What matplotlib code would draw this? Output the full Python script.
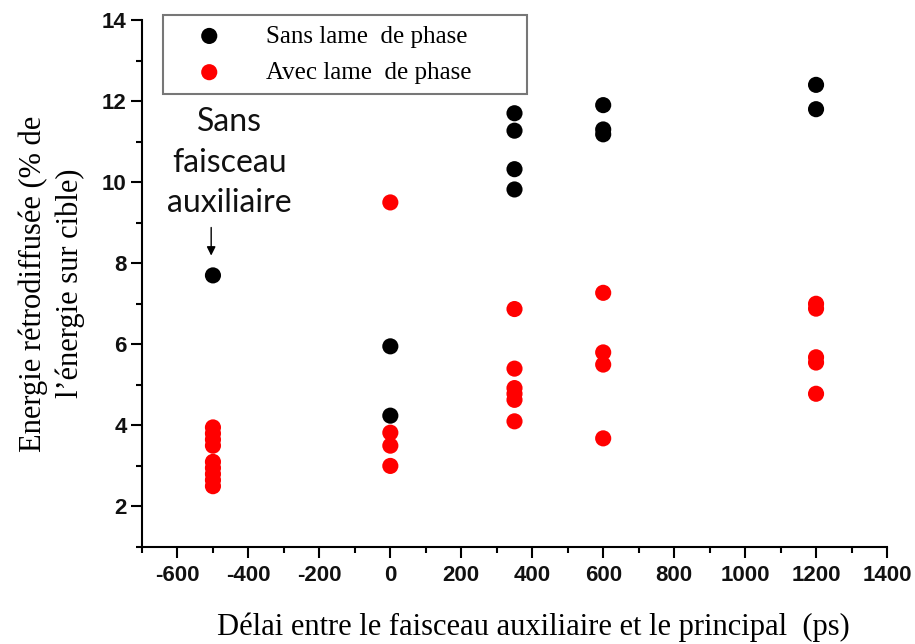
import matplotlib
matplotlib.use("Agg")
import matplotlib.pyplot as plt
from matplotlib.ticker import MultipleLocator

# Données
delai_sans = [-500, 0, 0, 350, 350, 350, 350, 600, 600, 600, 1200, 1200]
energie_sans = [7.7, 5.95, 4.24, 11.7, 11.27, 10.32, 9.82, 11.9, 11.3, 11.18, 12.4, 11.8]

delai_avec = [-500, -500, -500, -500, -500, -500, -500, -500, -500,
              0, 0, 0, 0,
              350, 350, 350, 350, 350, 350,
              600, 600, 600, 600,
              1200, 1200, 1200, 1200, 1200]
energie_avec = [3.95, 3.8, 3.65, 3.5, 3.1, 2.95, 2.8, 2.65, 2.5,
                9.5, 3.82, 3.5, 3.0,
                6.87, 5.4, 4.92, 4.78, 4.63, 4.1,
                7.27, 5.8, 5.5, 3.68,
                7.0, 6.88, 5.68, 5.55, 4.78]

labels = ["Sans lame  de phase", "Avec lame  de phase"]
xticks = [-600, -400, -200, 0, 200, 400, 600, 800, 1000, 1200, 1400]
yticks = [2, 4, 6, 8, 10, 12, 14]

serif = ["Liberation Serif", "DejaVu Serif"]
plt.rcParams["axes.unicode_minus"] = False

fig = plt.figure(figsize=(9.15, 6.44), dpi=100)
ax = fig.add_axes([142 / 915, 97 / 644, 745 / 915, 527 / 644])

ax.scatter(delai_sans, energie_sans, s=135, c="black", edgecolors="none",
           label=labels[0], zorder=3)
ax.scatter(delai_avec, energie_avec, s=135, c="#ff0000", edgecolors="none",
           label=labels[1], zorder=3)

ax.set_xlim(-700, 1400)
ax.set_ylim(1, 14)
ax.set_xticks(xticks)
ax.set_yticks(yticks)
ax.xaxis.set_minor_locator(MultipleLocator(100))
ax.yaxis.set_minor_locator(MultipleLocator(1))

for s in ["top", "right"]:
    ax.spines[s].set_visible(False)
for s in ["left", "bottom"]:
    ax.spines[s].set_linewidth(1.5)

ax.tick_params(which="major", length=8, width=1.5, direction="out")
ax.tick_params(which="minor", length=4, width=1.5, direction="out")
ax.tick_params(axis="x", which="major", pad=5)
ax.tick_params(axis="y", which="major", pad=3)
for lab in ax.get_xticklabels() + ax.get_yticklabels():
    lab.set_fontfamily("Liberation Sans")
    lab.set_fontweight("bold")
    lab.set_fontsize(16)
    lab.set_color("#111111")

ax.set_xlabel("Délai entre le faisceau auxiliaire et le principal  (ps)",
              fontsize=22, family=serif)
ax.xaxis.set_label_coords(0.525, -0.125)
ax.set_ylabel("Energie rétrodiffusée (% de\nl’énergie sur cible)",
              fontsize=22, family=serif, linespacing=1.3)
ax.yaxis.set_label_coords(-0.077, 0.5)

# annotation
ax.text(-453, 10.48, "Sans\nfaisceau\nauxiliaire", ha="center", va="center",
        fontsize=23, family=["Lato", "DejaVu Sans"], color="#111111",
        linespacing=1.45)
ax.annotate("", xy=(-505, 8.12), xytext=(-505, 8.95),
            arrowprops=dict(arrowstyle="-|>", color="black", lw=1.0,
                            mutation_scale=13))

leg = ax.legend(loc="upper left",
                bbox_to_anchor=(163 / 915, 1 - 88 / 644, 364 / 915, 73 / 644),
                bbox_transform=fig.transFigure, mode="expand", borderaxespad=0,
                prop={"family": serif, "size": 18}, frameon=True,
                fancybox=False, borderpad=0.4, labelspacing=0.55,
                handletextpad=0.8, handlelength=2.9, markerscale=1.0)
leg.get_frame().set_edgecolor("#555555")
leg.get_frame().set_linewidth(1.5)

fig.savefig("out.png", dpi=100)
